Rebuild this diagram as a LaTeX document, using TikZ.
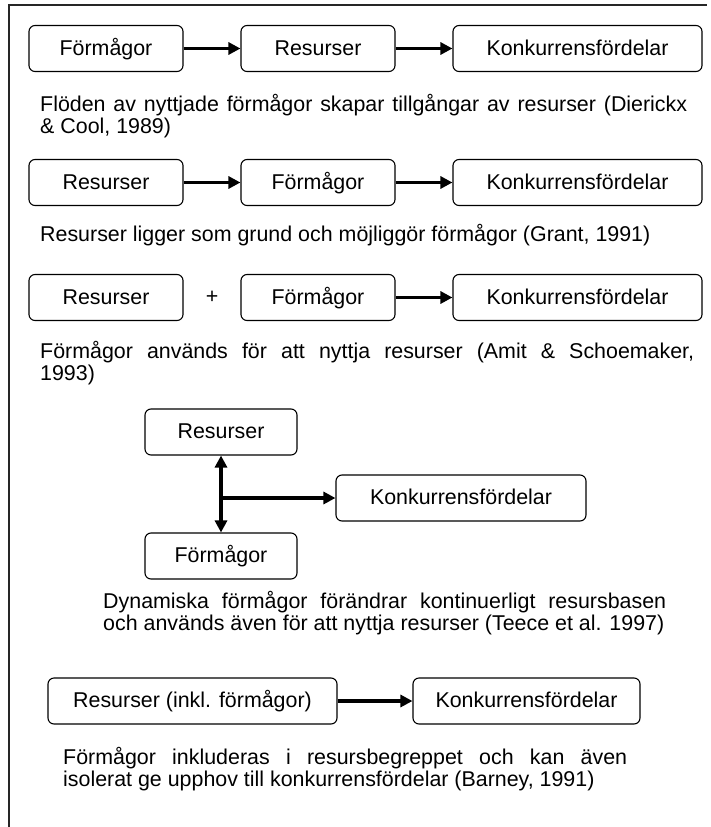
\documentclass[tikz,border=0pt]{standalone}
\usepackage{fontspec}
\setmainfont{Liberation Sans}
\usetikzlibrary{arrows.meta}

\tikzset{
  txt/.style={font=\fontsize{21.4}{22}\selectfont, inner sep=0pt},
  box/.style={txt, draw=black, line width=1.1pt, rounded corners=6pt,
              minimum height=46pt, text height=15.4pt, text depth=2.2pt,
              align=center},
  smallbox/.style={box, minimum width=154pt},
  widebox/.style={box, minimum width=249pt},
  line/.style={txt, anchor=base west},
  arr/.style={line width=3.1pt, -{Triangle[length=12pt,width=12pt]}},
  dblarr/.style={line width=3.1pt, {Triangle[length=12pt,width=12pt]}-{Triangle[length=12pt,width=12pt]}},
  frame/.style={line width=1.5pt, draw=black!85}
}

\begin{document}
\begin{tikzpicture}[x=1pt, y=-1pt]
  \useasboundingbox (0,0) rectangle (710,827);

  % outer frame (left and top edges)
  \draw[frame] (9,827) -- (9,5) -- (707,5);

  % ---- model 1: capabilities -> resources -> advantage
  \node[smallbox] (a1) at (106,48.5) {Förmågor};
  \node[smallbox] (a2) at (318,48.5) {Resurser};
  \node[widebox]  (a3) at (577.5,48.5) {Konkurrensfördelar};
  \draw[arr] (a1) -- (a2);
  \draw[arr] (a2) -- (a3);
  \node[line] (t1a) at (40,111) {\makebox[647pt][s]{Flöden av nyttjade förmågor skapar tillgångar av resurser (Dierickx}};
  \node[line] (t1b) at (40,133) {\& Cool, 1989)};

  % ---- model 2: resources -> capabilities -> advantage
  \node[smallbox] (b1) at (106,182.5) {Resurser};
  \node[smallbox] (b2) at (318,182.5) {Förmågor};
  \node[widebox]  (b3) at (577.5,182.5) {Konkurrensfördelar};
  \draw[arr] (b1) -- (b2);
  \draw[arr] (b2) -- (b3);
  \node[line] (t2) at (40,241) {Resurser ligger som grund och möjliggör förmågor (Grant, 1991)};

  % ---- model 3: resources + capabilities -> advantage
  \node[smallbox] (c1) at (106,297.5) {Resurser};
  \node[txt] (plus) at (212,297.5) {+};
  \node[smallbox] (c2) at (318,297.5) {Förmågor};
  \node[widebox]  (c3) at (577.5,297.5) {Konkurrensfördelar};
  \draw[arr] (c2) -- (c3);
  \node[line] (t3a) at (40,358) {\makebox[654pt][s]{Förmågor används för att nyttja resurser (Amit \& Schoemaker,}};
  \node[line] (t3b) at (40,380) {1993)};

  % ---- model 4: dynamic capabilities
  \node[box, minimum width=152pt] (d1) at (221,432) {Resurser};
  \node[box, minimum width=152pt] (d2) at (221,556) {Förmågor};
  \node[box, minimum width=250pt] (d3) at (461,498) {Konkurrensfördelar};
  \draw[dblarr] (d1.south) -- (d2.north);
  \draw[arr] (d1.south |- d3.west) -- (d3.west);
  \node[line] (t4a) at (103,608) {\makebox[563pt][s]{Dynamiska förmågor förändrar kontinuerligt resursbasen}};
  \node[line] (t4b) at (103,630) {och används även för att nyttja resurser (Teece et al. 1997)};

  % ---- model 5: resources incl. capabilities -> advantage
  \node[box, minimum width=289pt] (e1) at (192.5,701) {Resurser (inkl. förmågor)};
  \node[box, minimum width=227pt] (e2) at (526.5,701) {Konkurrensfördelar};
  \draw[arr] (e1) -- (e2);
  \node[line] (t5a) at (63,764) {\makebox[564pt][s]{Förmågor inkluderas i resursbegreppet och kan även}};
  \node[line] (t5b) at (63,786) {isolerat ge upphov till konkurrensfördelar (Barney, 1991)};
\end{tikzpicture}
\end{document}
